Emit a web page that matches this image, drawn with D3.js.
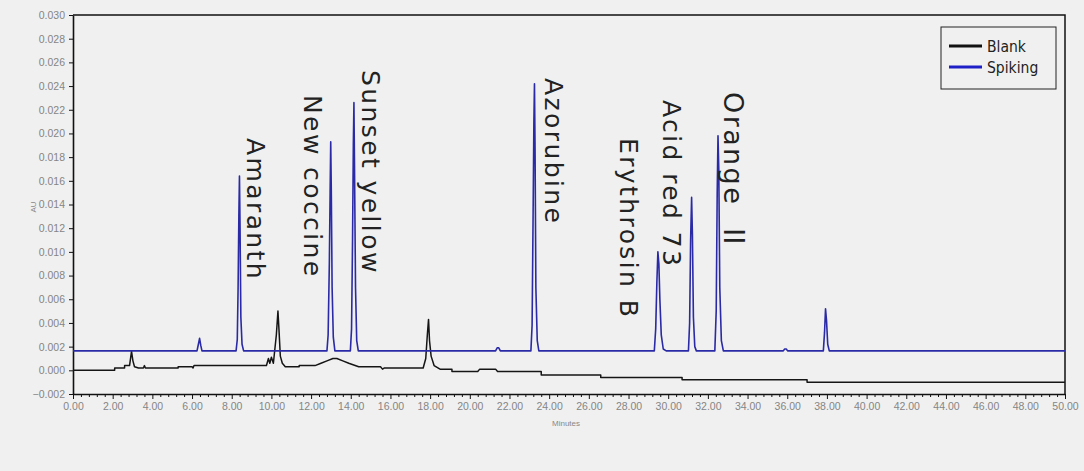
<!DOCTYPE html>
<html><head><meta charset="utf-8">
<script src="https://cdn.jsdelivr.net/npm/d3@7"></script>
<style>
html,body{margin:0;padding:0;background:#f0f0f0;}
svg{display:block;}
.roman{font-family:"Noto Sans CJK JP","Noto Sans CJK SC","DejaVu Serif",serif;}
</style></head>
<body>
<script>
// ---------- data ----------
const xTicks = [0,2,4,6,8,10,12,14,16,18,20,22,24,26,28,30,32,34,36,38,40,42,44,46,48,50];
const yTicks = [-0.002,0,0.002,0.004,0.006,0.008,0.010,0.012,0.014,0.016,0.018,0.020,0.022,0.024,0.026,0.028,0.030];
const seriesNames = ["Blank","Spiking"];

// Spiking trace [minutes, AU]
const spikingPoints = [
 [0,0.00164],
 [6.25,0.00164],[6.32,0.0022],[6.38,0.0027],[6.44,0.0021],[6.50,0.00164],
 [8.22,0.00164],[8.28,0.0026],[8.32,0.0068],[8.36,0.0130],[8.39,0.0164],[8.42,0.0120],[8.46,0.0045],[8.52,0.0022],[8.60,0.00164],
 [12.80,0.00164],[12.86,0.0030],[12.92,0.0090],[12.96,0.0150],[12.99,0.0193],[13.02,0.0150],[13.06,0.0070],[13.12,0.0028],[13.20,0.00164],
 [13.98,0.00164],[14.04,0.0035],[14.09,0.0110],[14.13,0.0190],[14.16,0.0226],[14.19,0.0170],[14.24,0.0070],[14.30,0.0025],[14.38,0.00164],
 [21.30,0.00164],[21.38,0.0019],[21.46,0.0019],[21.54,0.00164],
 [23.08,0.00164],[23.14,0.0038],[23.19,0.0130],[23.23,0.0210],[23.26,0.0242],[23.29,0.0185],[23.33,0.0070],[23.40,0.0025],[23.48,0.00164],
 [29.30,0.00164],[29.37,0.0035],[29.43,0.0075],[29.48,0.0100],[29.53,0.0090],[29.58,0.0060],[29.65,0.0030],[29.75,0.0018],[29.90,0.00164],
 [31.02,0.00164],[31.08,0.0040],[31.13,0.0110],[31.18,0.0146],[31.22,0.0115],[31.27,0.0045],[31.34,0.0020],[31.42,0.00164],
 [32.35,0.00164],[32.42,0.0050],[32.47,0.0150],[32.51,0.0198],[32.55,0.0170],[32.60,0.0070],[32.68,0.0025],[32.78,0.00164],
 [35.80,0.00164],[35.87,0.0018],[35.95,0.0018],[36.02,0.00164],
 [37.82,0.00164],[37.88,0.0032],[37.93,0.0052],[37.98,0.0042],[38.04,0.0022],[38.12,0.00164],
 [50,0.00164]
];

// Blank trace [minutes, AU]
const blankPoints = [
 [0,0.0],[2.1,0.0],[2.1,0.0002],[2.6,0.0002],[2.6,0.0004],[2.85,0.0004],[2.95,0.0016],[3.02,0.0008],[3.1,0.0003],
 [3.3,0.0002],[3.55,0.0002],[3.6,0.0004],[3.65,0.0002],[5.3,0.0002],[5.3,0.0003],[6.0,0.0003],[6.05,0.0002],[6.1,0.0004],
 [9.75,0.0004],[9.85,0.0010],[9.92,0.0006],[10.0,0.0011],[10.1,0.0006],[10.25,0.0030],[10.33,0.0050],[10.38,0.0035],
 [10.45,0.0012],[10.55,0.0006],[10.7,0.0003],[11.4,0.0003],[11.4,0.0004],[12.2,0.0004],[12.5,0.0006],[12.8,0.0008],
 [13.1,0.0010],[13.3,0.0010],[13.6,0.0008],[13.9,0.0006],[14.4,0.0003],[15.5,0.0003],[15.6,0.0001],[15.7,0.0002],
 [17.65,0.0002],[17.78,0.0010],[17.86,0.0030],[17.92,0.0043],[17.97,0.0025],[18.05,0.0012],[18.2,0.0004],[18.5,0.0001],
 [19.1,0.0001],[19.1,-0.0001],[20.4,-0.0001],[20.5,0.0001],[21.3,0.0001],[21.4,-0.0001],[23.6,-0.0001],[23.6,-0.0004],
 [26.6,-0.0004],[26.6,-0.0006],[30.7,-0.0006],[30.7,-0.0008],[37.0,-0.0008],[37.0,-0.0010],[50,-0.0010]
];

// Peak annotations
const peakNames = ["Amaranth","New coccine","Sunset yellow","Azorubine","Erythrosin B","Acid red 73","Orange"];
const peakSuffix = ["","","","","","","\u2161"];
const peakTimes = [8.39,12.99,14.16,23.26,29.48,31.18,32.51];

// ---------- layout (not data) ----------
const W = 1084, H = 471;
const labelDx  = [8,-27,8,11,-38,-29,6];        // px offset of text baseline from peak
const labelTop = [138,95,70,78,138,100,92];     // px where text starts
const labelSize = [25,25,25,25,25,25,27];

const svg = d3.select("body").append("svg").attr("width",W).attr("height",H);
svg.append("rect").attr("width",W).attr("height",H).attr("fill","#f0f0f0");

const x = d3.scaleLinear().domain([0,50]).range([73,1065]);
const y = d3.scaleLinear().domain([-0.002,0.030]).range([394,15]);

// frame top/right
svg.append("path").attr("d",`M${x(0)},${y(0.030)}H${x(50)}V${y(-0.002)}`)
  .attr("fill","none").attr("stroke","#111").attr("stroke-width",1.5);

// y axis
const yAx = svg.append("g").attr("transform",`translate(${x(0)},0)`)
  .call(d3.axisLeft(y).tickValues(yTicks).tickSize(4).tickSizeOuter(0).tickFormat(d3.format(".3f")));
// x axis major
const xAx = svg.append("g").attr("transform",`translate(0,${y(-0.002)})`)
  .call(d3.axisBottom(x).tickValues(xTicks).tickSize(5).tickSizeOuter(0).tickFormat(d3.format(".2f")));
// x minor ticks
const minor = d3.range(0,50.001,0.4).filter(v=>Math.abs(v/2-Math.round(v/2))>1e-6);
svg.append("g").attr("transform",`translate(0,${y(-0.002)})`)
  .call(d3.axisBottom(x).tickValues(minor).tickSize(3).tickSizeOuter(0).tickFormat(""))
  .call(g=>g.select(".domain").remove())
  .call(g=>g.selectAll("line").attr("stroke","#111"));

[yAx,xAx].forEach(g=>{
  g.select(".domain").attr("stroke","#111").attr("stroke-width",1.6);
  g.selectAll(".tick line").attr("stroke","#111");
  g.selectAll("text").attr("fill","#858585").attr("font-family","Liberation Sans Narrow, Liberation Sans, Arial, sans-serif").attr("font-size",10.5);
});
xAx.selectAll("text").attr("dy","0.8em");
yAx.selectAll("text").attr("dx","-1");

// axis titles
svg.append("text").attr("x",566).attr("y",426).attr("text-anchor","middle")
  .attr("font-family","Liberation Sans Narrow, Liberation Sans, Arial, sans-serif").attr("font-size",8).attr("fill","#888").text("Minutes");
svg.append("text").attr("transform","translate(36,207) rotate(-90)").attr("text-anchor","middle")
  .attr("font-family","Liberation Sans, Arial, sans-serif").attr("font-size",8).attr("fill","#888").text("AU");

// traces
const line = d3.line().x(d=>x(d[0])).y(d=>y(d[1]));
svg.append("path").datum(blankPoints).attr("d",line).attr("fill","none")
  .attr("stroke","#151515").attr("stroke-width",1.5).attr("stroke-linejoin","round");
svg.append("path").datum(spikingPoints).attr("d",line).attr("fill","none")
  .attr("stroke","#2a2aa6").attr("stroke-width",1.6).attr("stroke-linejoin","round");

// peak labels
peakNames.forEach((n,i)=>{
  const t = svg.append("text")
    .attr("transform",`translate(${x(peakTimes[i])+labelDx[i]},${labelTop[i]}) rotate(90)`)
    .attr("font-family","DejaVu Sans, Verdana, sans-serif").attr("font-size",labelSize[i])
    .attr("letter-spacing",2.4).attr("fill","#222").text(n);
  if (peakSuffix[i]) {
    t.append("tspan").attr("class","roman").attr("dx",16)
      .attr("font-size",28).attr("letter-spacing",0).text(peakSuffix[i]);
  }
});

// legend
const lg = svg.append("g");
lg.append("rect").attr("x",941).attr("y",27).attr("width",115).attr("height",62)
  .attr("fill","#f0f0f0").attr("stroke","#222").attr("stroke-width",1);
const legColors = ["#111","#1f1fc8"];
seriesNames.forEach((n,i)=>{
  const yy = 46 + i*21;
  lg.append("line").attr("x1",949).attr("x2",982).attr("y1",yy).attr("y2",yy)
    .attr("stroke",legColors[i]).attr("stroke-width",3);
  lg.append("text").attr("x",987).attr("y",yy+5.5).attr("font-family","DejaVu Sans Condensed, DejaVu Sans, sans-serif")
    .attr("font-stretch","condensed").attr("font-size",15.5).attr("fill","#222").text(n);
});
</script>
</body></html>
